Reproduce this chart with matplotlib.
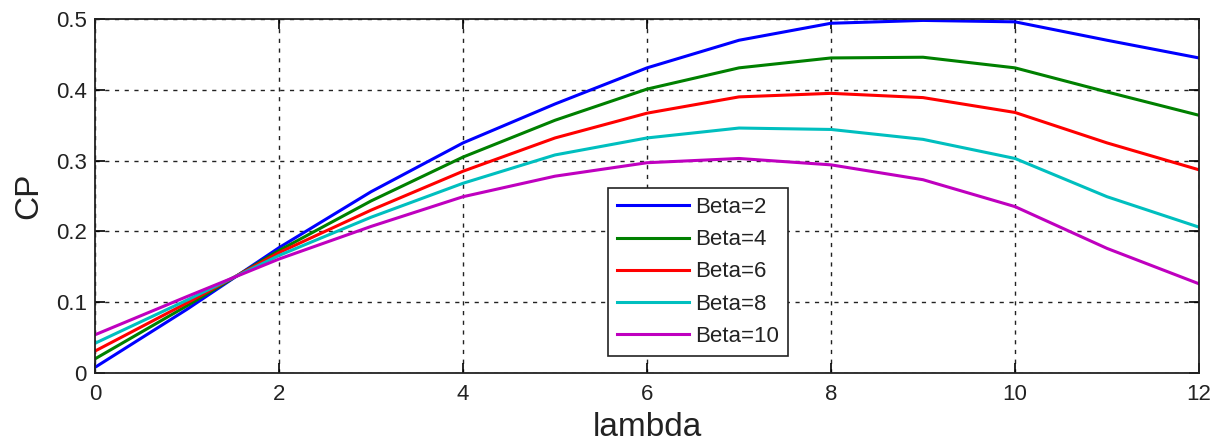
import matplotlib
matplotlib.use("Agg")
import matplotlib.pyplot as plt

# Cp curves (lambda at integer steps)
lam = [0, 1, 2, 3, 4, 5, 6, 7, 8, 9, 10, 11, 12]
cp_b2 = [0.008, 0.090, 0.177, 0.256, 0.325, 0.380, 0.431, 0.470, 0.494, 0.498, 0.496, 0.470, 0.445]
cp_b4 = [0.020, 0.095, 0.173, 0.243, 0.305, 0.357, 0.401, 0.431, 0.445, 0.446, 0.431, 0.397, 0.364]
cp_b6 = [0.031, 0.099, 0.170, 0.230, 0.285, 0.332, 0.367, 0.390, 0.395, 0.389, 0.368, 0.325, 0.287]
cp_b8 = [0.042, 0.103, 0.166, 0.220, 0.268, 0.308, 0.332, 0.346, 0.344, 0.330, 0.303, 0.249, 0.206]
cp_b10 = [0.054, 0.108, 0.161, 0.207, 0.249, 0.278, 0.297, 0.303, 0.294, 0.273, 0.235, 0.176, 0.126]
labels = ["Beta=2", "Beta=4", "Beta=6", "Beta=8", "Beta=10"]
colors = ["#0000ff", "#008000", "#ff0000", "#00bfbf", "#bf00bf"]

plt.rcParams['font.family'] = ['Liberation Sans', 'DejaVu Sans']

fig = plt.figure(figsize=(12.2, 4.41), dpi=100)
ax = fig.add_axes([0.0779, 0.1542, 0.9049, 0.8027])

for ys, lab, c in zip([cp_b2, cp_b4, cp_b6, cp_b8, cp_b10], labels, colors):
    ax.plot(lam, ys, color=c, lw=2.2, label=lab)

ax.set_xlim(0, 12)
ax.set_ylim(0, 0.5)
ax.set_xticks([0, 2, 4, 6, 8, 10, 12])
ax.set_yticks([0, 0.1, 0.2, 0.3, 0.4, 0.5])
ax.set_yticklabels(["0", "0.1", "0.2", "0.3", "0.4", "0.5"])
ax.tick_params(direction='in', length=7, width=1.2, labelsize=16, top=True, right=True,
               labelcolor='#222222')
ax.tick_params(axis='x', pad=8)
ax.tick_params(axis='y', pad=6)
ax.grid(True, color='#222222', linestyle=(0, (3, 4)), linewidth=1.0)
for s in ax.spines.values():
    s.set_linewidth(1.3)
    s.set_color('#222222')

ax.set_xlabel("lambda", fontsize=24, labelpad=5, color='#222222')
ax.set_ylabel("CP", fontsize=24, labelpad=8, color='#222222')

leg = ax.legend(loc='lower left', bbox_to_anchor=(0.4647, 0.048), borderaxespad=0,
                fontsize=16, handlelength=3.2, labelspacing=0.5, handletextpad=0.3,
                fancybox=False, framealpha=1, edgecolor='#222222', borderpad=0.42)
leg.get_frame().set_linewidth(1.2)
for t in leg.get_texts():
    t.set_color('#222222')

fig.savefig("out.png", dpi=100)
